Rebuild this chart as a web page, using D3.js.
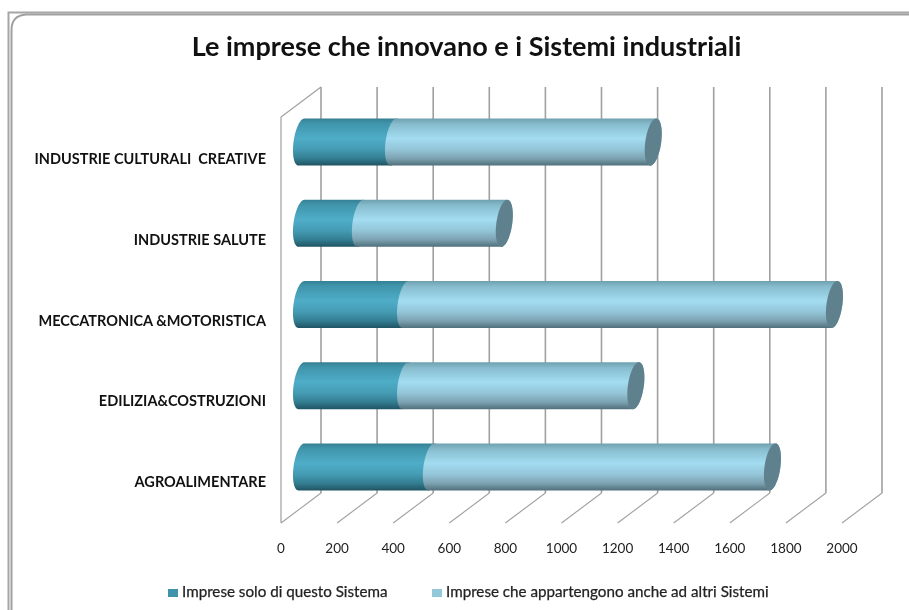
<!DOCTYPE html>
<html>
<head>
<meta charset="utf-8">
<script src="https://cdn.jsdelivr.net/npm/d3@7"></script>
<style>
  html, body { margin: 0; padding: 0; background: #fff; }
  svg { display: block; filter: blur(0.4px); }
  text { font-family: Lato, "Open Sans", sans-serif; }
</style>
</head>
<body>
<div id="chart"></div>
<script>
const categories = ['INDUSTRIE CULTURALI  CREATIVE', 'INDUSTRIE SALUTE', 'MECCATRONICA &MOTORISTICA', 'EDILIZIA&COSTRUZIONI', 'AGROALIMENTARE'];
const soloSistema = [328, 210, 371, 371, 463];
const altriSistemi = [926, 513, 1529, 821, 1216];
const xTicks = [0, 200, 400, 600, 800, 1000, 1200, 1400, 1600, 1800, 2000];
const seriesNames = ['Imprese solo di questo Sistema', 'Imprese che appartengono anche ad altri Sistemi'];

const width = 909;
const height = 610;

const svg = d3.select('#chart')
  .append('svg')
  .attr('width', width)
  .attr('height', height);

const defs = svg.append('defs');

function cylinderGradient(id, stops) {
  const g = defs.append('linearGradient')
    .attr('id', id)
    .attr('x1', 0).attr('x2', 0).attr('y1', 0).attr('y2', 1);
  stops.forEach(([o, c]) => g.append('stop').attr('offset', o).attr('stop-color', c));
}
cylinderGradient('teal', [[0, '#357f93'], [0.1, '#3f94aa'], [0.42, '#4fadc8'], [0.65, '#459cb4'], [0.85, '#337d91'], [1, '#1f5363']]);
cylinderGradient('light', [[0, '#6f9fae'], [0.12, '#86bccd'], [0.42, '#a3dcf1'], [0.65, '#94c6d9'], [0.85, '#7ca2b1'], [1, '#4f6f7a']]);

// Frame
svg.append('path')
  .attr('d', 'M8.5,610V12.5H909')
  .attr('fill', 'none').attr('stroke', '#a6a6a6').attr('stroke-width', 2);
svg.append('path')
  .attr('d', 'M11.5,610V30Q11.5,15.5 26,14.5H909')
  .attr('fill', 'none').attr('stroke', '#a0a0a0').attr('stroke-width', 2);

svg.append('text')
  .attr('x', 466.5)
  .attr('y', 56)
  .attr('text-anchor', 'middle')
  .attr('font-size', 27)
  .attr('font-weight', 700)
  .attr('fill', '#111')
  .text('Le imprese che innovano e i Sistemi industriali');

// Plot geometry: front plane plus a depth offset for the 3D box
const depthX = 40;
const depthY = 30;
const plotTop = 117;
const plotBottom = 523;
const x = d3.scaleLinear().domain([0, 2000]).range([281, 842]);
const barOffset = 20.5;

const y = d3.scaleBand()
  .domain(categories)
  .range([118.5, 490.5])
  .paddingInner(0.42)
  .paddingOuter(0);

// labels sit a bit off the bar centres in the original
const labelY = d3.scalePoint()
  .domain(categories)
  .range([164, 487]);

const grid = svg.append('g').attr('fill', 'none').attr('stroke', '#a0a0a0').attr('stroke-width', 1.6);

// left wall
grid.append('path')
  .attr('d', `M${x(0)},${plotBottom}V${plotTop}L${x(0) + depthX},${plotTop - depthY}`)
  .attr('stroke-width', 1.2);

grid.selectAll('line.back')
  .data(xTicks)
  .join('line')
  .attr('class', 'back')
  .attr('x1', d => x(d) + depthX)
  .attr('x2', d => x(d) + depthX)
  .attr('y1', plotTop - depthY)
  .attr('y2', plotBottom - depthY);

grid.selectAll('line.floor')
  .data(xTicks)
  .join('line')
  .attr('class', 'floor')
  .attr('stroke-width', 1.1)
  .attr('x1', d => x(d) + depthX)
  .attr('x2', d => x(d))
  .attr('y1', plotBottom - depthY)
  .attr('y2', plotBottom);

svg.selectAll('text.tick')
  .data(xTicks)
  .join('text')
  .attr('class', 'tick')
  .attr('x', d => x(d))
  .attr('y', 553)
  .attr('text-anchor', 'middle')
  .attr('font-size', 13.5)
  .attr('fill', '#222')
  .text(d => d);

svg.selectAll('text.cat')
  .data(categories)
  .join('text')
  .attr('class', 'cat')
  .attr('x', 266)
  .attr('y', d => labelY(d))
  .attr('text-anchor', 'end')
  .attr('font-size', 14.5)
  .attr('font-weight', 700)
  .attr('fill', '#111')
  .style('white-space', 'pre')
  .text(d => d);

// Cylinder outline: flat ellipse ends leaning to the right at the top
const rx = 8;
const lean = 3;

function endArc(cx, ry, cy, forward) {
  return d3.range(0, 25).map(i => {
    const t = Math.PI * i / 24;
    const dy = -ry * Math.cos(t);
    const bulge = rx * Math.sin(t);
    return [cx + (forward ? bulge : -bulge) - lean * dy / ry, cy + dy];
  });
}

function cylinderPath(x0, x1, cy, ry) {
  const rightSide = endArc(x1, ry, cy, true);
  const leftSide = endArc(x0, ry, cy, false).reverse();
  return d3.line()(rightSide.concat(leftSide)) + 'Z';
}

const bars = svg.selectAll('g.bar')
  .data(categories)
  .join('g')
  .attr('class', 'bar');

const barX = v => x(v) + barOffset;

// teal first, the light segment's rounded start overlaps it
bars.append('path')
  .attr('fill', 'url(#teal)')
  .attr('d', (d, i) => cylinderPath(
    barX(0),
    barX(soloSistema[i]),
    y(d) + y.bandwidth() / 2,
    y.bandwidth() / 2));

bars.append('path')
  .attr('fill', 'url(#light)')
  .attr('d', (d, i) => cylinderPath(
    barX(soloSistema[i]),
    barX(soloSistema[i] + altriSistemi[i]),
    y(d) + y.bandwidth() / 2,
    y.bandwidth() / 2));

bars.append('path')
  .attr('fill', '#5f818e')
  .attr('d', (d, i) => {
    const end = barX(soloSistema[i] + altriSistemi[i]);
    return cylinderPath(end, end, y(d) + y.bandwidth() / 2, y.bandwidth() / 2);
  });

// Legend
const legend = [
  { name: seriesNames[0], sx: 168, tx: 182, color: '#3f94ab' },
  { name: seriesNames[1], sx: 432, tx: 446, color: '#93c8da' }
];
const legendItems = svg.selectAll('g.legend')
  .data(legend)
  .join('g')
  .attr('class', 'legend');
legendItems.append('rect')
  .attr('x', d => d.sx)
  .attr('y', 589)
  .attr('width', 10)
  .attr('height', 8)
  .attr('fill', d => d.color);
legendItems.append('text')
  .attr('x', d => d.tx)
  .attr('y', 597)
  .attr('font-size', 15.2)
  .attr('font-weight', 400)
  .attr('stroke', '#222')
  .attr('stroke-width', 0.25)
  .attr('fill', '#222')
  .text(d => d.name);
</script>
</body>
</html>
